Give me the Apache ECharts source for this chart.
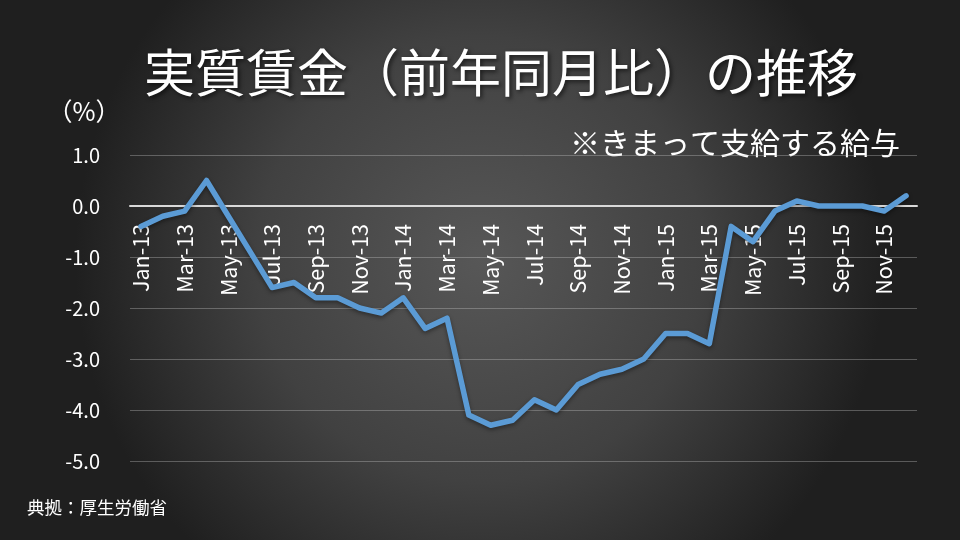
<!DOCTYPE html>
<html>
<head>
<meta charset="utf-8">
<script src="https://cdn.jsdelivr.net/npm/echarts@6/dist/echarts.min.js"></script>
<style>html,body{margin:0;padding:0;}#c{width:960px;height:540px;}</style>
</head>
<body>
<div id="c"></div>
<script>
const categories = [
  'Jan-13','Feb-13','Mar-13','Apr-13','May-13','Jun-13','Jul-13','Aug-13','Sep-13','Oct-13','Nov-13','Dec-13',
  'Jan-14','Feb-14','Mar-14','Apr-14','May-14','Jun-14','Jul-14','Aug-14','Sep-14','Oct-14','Nov-14','Dec-14',
  'Jan-15','Feb-15','Mar-15','Apr-15','May-15','Jun-15','Jul-15','Aug-15','Sep-15','Oct-15','Nov-15','Dec-15'
];
const realWage = [
  -0.4, -0.2, -0.1, 0.5, -0.2, -0.9, -1.6, -1.5, -1.8, -1.8, -2.0, -2.1,
  -1.8, -2.4, -2.2, -4.1, -4.3, -4.2, -3.8, -4.0, -3.5, -3.3, -3.2, -3.0,
  -2.5, -2.5, -2.7, -0.4, -0.7, -0.1, 0.1, 0.0, 0.0, 0.0, -0.1, 0.2
];
const titleText = '実質賃金（前年同月比）の推移';
const noteText = '※きまって支給する給与';
const unitText = '（%）';
const sourceText = '典拠：厚生労働省';

const FONT = '"Noto Sans CJK JP", "Noto Sans", sans-serif';
const chart = echarts.init(document.getElementById('c'), null, {renderer: 'canvas'});
chart.setOption({
  backgroundColor: {
    type: 'radial', x: 0.5, y: 0.48, r: 0.75,
    colorStops: [
      {offset: 0, color: '#575757'},
      {offset: 0.55, color: '#414141'},
      {offset: 1, color: '#1f1f1f'}
    ]
  },
  animation: false,
  grid: {left: 130, right: 43, top: 155, bottom: 79},
  xAxis: {
    type: 'category',
    data: categories,
    boundaryGap: true,
    offset: -255,
    axisLine: {onZero: false, lineStyle: {color: '#d9d9d9', width: 2}},
    axisTick: {show: false},
    axisLabel: {
      interval: 1, rotate: 90, color: '#ffffff', fontSize: 21.5,
      fontFamily: FONT, margin: 18
    },
    splitLine: {show: false},
    z: 3
  },
  yAxis: {
    type: 'value', min: -5, max: 1, interval: 1,
    axisLine: {show: false},
    axisTick: {show: false},
    axisLabel: {
      color: '#ffffff', fontSize: 20, fontFamily: FONT, margin: 30,
      formatter: v => v.toFixed(1)
    },
    splitLine: {lineStyle: {color: 'rgba(200,200,200,0.35)', width: 1}}
  },
  series: [{
    type: 'line',
    data: realWage,
    symbol: 'none',
    lineStyle: {
      color: '#5b9bd5', width: 5.5, join: 'round', cap: 'round',
      shadowColor: 'rgba(0,0,0,0.4)', shadowBlur: 4, shadowOffsetY: 2
    },
    z: 5
  }],
  graphic: [
    {type: 'text', x: 501, y: 73, style: {
      text: titleText, fill: '#ffffff', font: '51px ' + FONT,
      textAlign: 'center', textVerticalAlign: 'middle',
      textShadowColor: 'rgba(0,0,0,0.6)', textShadowBlur: 4, textShadowOffsetX: 2, textShadowOffsetY: 2
    }},
    {type: 'text', x: 900, y: 143, style: {
      text: noteText, fill: '#ffffff', font: '30px ' + FONT,
      textAlign: 'right', textVerticalAlign: 'middle'
    }},
    {type: 'text', x: 84, y: 111, style: {
      text: unitText, fill: '#ffffff', font: '25px ' + FONT,
      textAlign: 'center', textVerticalAlign: 'middle'
    }},
    {type: 'text', x: 27, y: 507, style: {
      text: sourceText, fill: '#ffffff', font: '17.5px ' + FONT,
      textAlign: 'left', textVerticalAlign: 'middle'
    }}
  ]
});
</script>
</body>
</html>
